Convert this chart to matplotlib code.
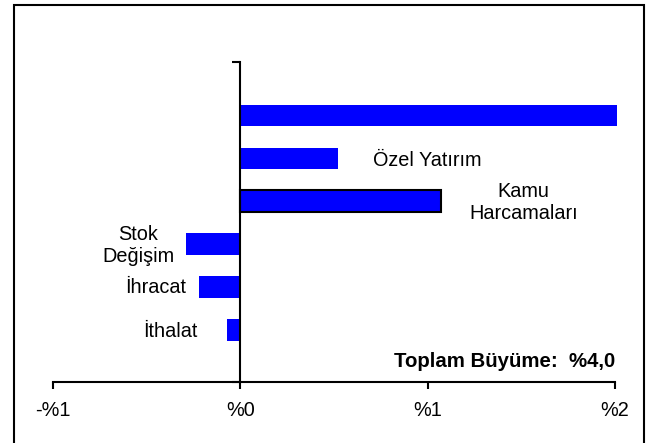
import matplotlib
matplotlib.use("Agg")
import matplotlib.pyplot as plt
from matplotlib.patches import Rectangle

plt.rcParams['font.family'] = ['Liberation Sans', 'DejaVu Sans']

# data (top to bottom)
etiketler = ["", "Özel Yatırım", "Kamu\nHarcamaları", "Stok\nDeğişim", "İhracat", "İthalat"]
degerler = [2.01, 0.52, 1.07, -0.29, -0.22, -0.07]
kenar = [False, False, True, False, False, False]
toplam = "Toplam Büyüme:  %4,0"
xticks = [-1, 0, 1, 2]
xtick_labels = ["-%1", "%0", "%1", "%2"]

fs = 14.3

fig = plt.figure(figsize=(6.48, 4.43), dpi=100)
ax = fig.add_axes([53 / 648, 1 - 382 / 443, 562 / 648, 320 / 443])

y = list(range(len(degerler)))
for i in y:
    ax.barh(i, degerler[i], height=0.51, color="#0000FF",
            edgecolor="black" if kenar[i] else "none",
            linewidth=1.5 if kenar[i] else 0, clip_on=False)

ax.set_xlim(-1, 2)
ax.set_ylim(6.2, -1.244)

ax.spines['top'].set_visible(False)
ax.spines['right'].set_visible(False)
ax.spines['left'].set_position(('data', 0))
ax.spines['left'].set_linewidth(1.5)
ax.spines['bottom'].set_linewidth(1.5)

ax.set_xticks(xticks)
ax.set_xticklabels(xtick_labels, fontsize=fs)
ax.tick_params(axis='x', direction='out', length=5, width=1.5, pad=9)
ax.set_yticks([-1.244, 6.2])
ax.set_yticklabels([])
ax.tick_params(axis='y', direction='out', length=6, width=1.5)

# category labels
ax.text(degerler[1] + 0.19, 1.05, etiketler[1], fontsize=fs, ha='left', va='center')
ax.text(degerler[2] + 0.44, 2.03, etiketler[2], fontsize=fs, ha='center', va='center',
        linespacing=1.17)
ax.text(degerler[3] - 0.255, 3.03, etiketler[3], fontsize=fs, ha='center', va='center',
        linespacing=1.17)
ax.text(degerler[4] - 0.07, 4.0, etiketler[4], fontsize=fs, ha='right', va='center')
ax.text(degerler[5] - 0.16, 5.03, etiketler[5], fontsize=fs, ha='right', va='center')

ax.text(2.0, 5.73, toplam, fontsize=14.7, fontweight='bold', ha='right', va='center')

# outer frame
fig.patches.append(Rectangle((14 / 648, -0.1), 630 / 648, 1.1 - 5 / 443,
                             transform=fig.transFigure, fill=False,
                             edgecolor='black', linewidth=1.5))

fig.savefig("out.png", dpi=100)
